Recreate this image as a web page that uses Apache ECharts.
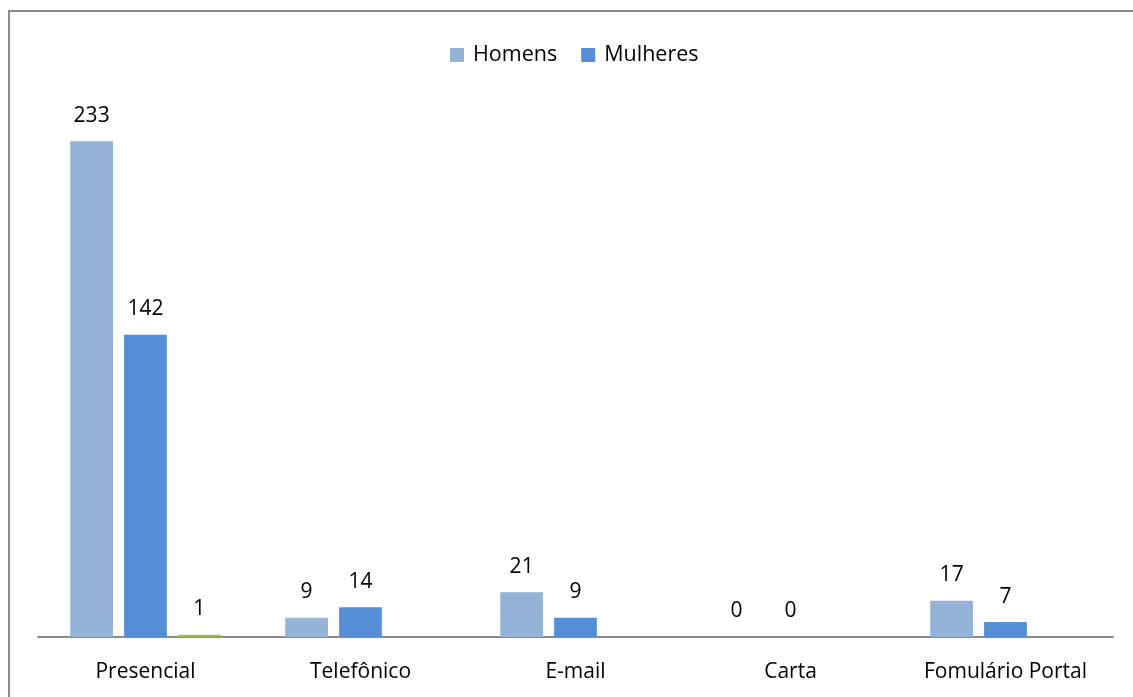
<!DOCTYPE html>
<html><head><meta charset="utf-8">
<script src="https://cdn.jsdelivr.net/npm/echarts@6/dist/echarts.min.js"></script>
<style>html,body{margin:0;padding:0;background:#fff}#c{width:1133px;height:697px}</style>
</head><body><div id="c"></div>
<script>
const categories = ['Presencial', 'Telefônico', 'E-mail', 'Carta', 'Fomulário Portal'];
const homens = [233, 9, 21, 0, 17];
const mulheres = [142, 14, 9, 0, 7];
const outros = [1, null, null, null, null];

const font = '"Open Sans", "Liberation Sans", sans-serif';
const lbl = {show: true, position: 'top', distance: 15, color: '#000', fontSize: 21, fontFamily: font};
const chart = echarts.init(document.getElementById('c'), null, {renderer: 'canvas'});
chart.setOption({
  animation: false,
  graphic: [{type: 'rect', shape: {x: 9, y: 11, width: 1300, height: 900},
    style: {fill: 'none', stroke: '#8c8c8c', lineWidth: 2}, z: -1}],
  legend: {
    data: ['Homens', 'Mulheres'], left: 445, top: 39, itemWidth: 14, itemHeight: 14, itemGap: 24,
    icon: 'rect', textStyle: {fontSize: 21.5, fontFamily: font, color: '#000', padding: [0, 0, 0, 4]}
  },
  grid: {left: 38, right: 20, top: 105, bottom: 60, containLabel: false},
  xAxis: {
    type: 'category', data: categories,
    axisLine: {lineStyle: {color: '#8c8c8c', width: 2}},
    axisTick: {show: false},
    axisLabel: {fontSize: 21, fontFamily: font, color: '#000', margin: 25}
  },
  yAxis: {type: 'value', min: 0, max: 250, show: false, splitLine: {show: false}},
  series: [
    {name: 'Homens', type: 'bar', data: homens, itemStyle: {color: '#95B3D7'},
     barGap: '26%', barCategoryGap: '30%', label: lbl},
    {name: 'Mulheres', type: 'bar', data: mulheres, itemStyle: {color: '#558ED5'}, label: lbl},
    {name: 'Outros', type: 'bar', data: outros, itemStyle: {color: '#9BBB59'}, label: lbl}
  ]
});
</script></body></html>
